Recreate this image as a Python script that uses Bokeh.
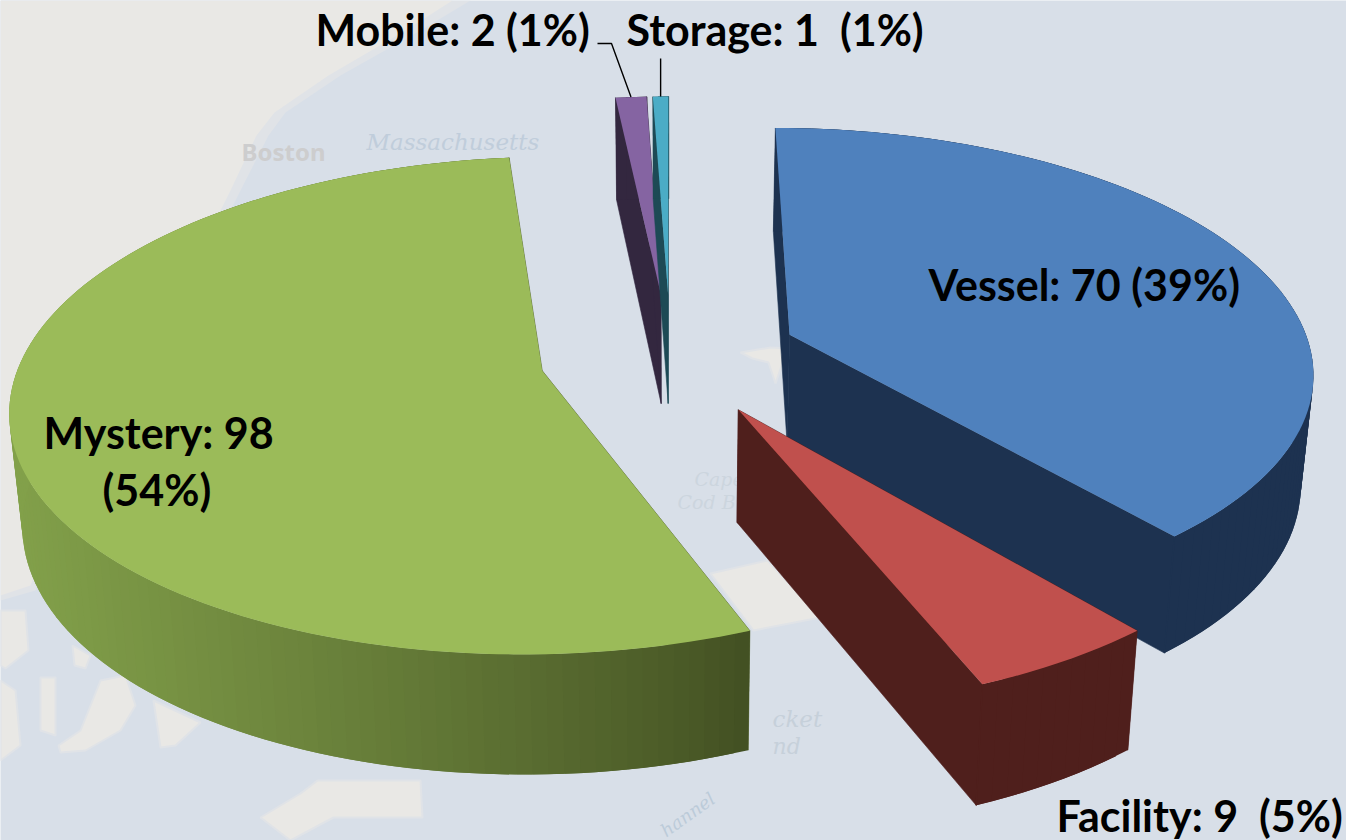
import numpy as np
from bokeh.plotting import figure
from bokeh.embed import file_html
from bokeh.resources import INLINE
from bokeh.core.properties import value

# ---- data
categories = ["Vessel", "Facility", "Mystery", "Mobile", "Storage"]
counts = [70, 9, 98, 2, 1]
label_lines = [["Vessel: 70 (39%)"], ["Facility: 9\u00a0 (5%)"], ["Mystery: 98", "(54%)"], ["Mobile: 2 (1%)"], ["Storage: 1\u00a0 (1%)"]]

# ---- styling
top_colors = ["#4f81bd", "#c0504d", "#9bbb59", "#8564a2", "#4bacc6"]
side_colors = ["#1d3250", "#4f1f1c", "#4f6029", "#33273f", "#1d4a55"]
explode = [0.24, 0.24, 0.24, 0.27, 0.27]
rim_scale = [0.995, 1.0, 0.992, 1.0, 1.0]
nudge_x = [2, 1, -5, 0, 0]
nudge_y = [-4, 0, -2, -1, -1]
label_pos = [[(928, 284)], [(1056, 815)], [(43, 432), (102, 489)], [(315, 29)], [(626, 29)]]
FONT = value("Lato")
FS = "43px"

X0, Y0, R, S, K, DEPTH, SHRINK = 670.0, 358.0, 525.0, 242.0, 0.14, 111.0, 0.02

def project(a, b, z):
    s = 1.0 / (1.0 + K * b)
    return X0 + R * a * s * (1 - SHRINK * z), Y0 - S * b * s + DEPTH * np.sqrt(s) * z

p = figure(width=1346, height=840, x_range=(0, 1346), y_range=(840, 0),
           output_backend="svg", toolbar_location=None, min_border=0)
p.axis.visible = False
p.grid.visible = False
p.outline_line_color = None
p.background_fill_color = "#d8dfe8"
p.border_fill_color = "#d8dfe8"

# ---- faint map behind the chart
halo = "#e0e3e7"
land = "#e9e8e5"
p.patch([0, 470, 420, 340, 285, 268, 240, 215, 120, 45, 35, 0],
        [0, 0, 30, 75, 112, 135, 190, 240, 400, 560, 590, 600], fill_color=halo, line_color=None)
p.patch([0, 452, 405, 328, 274, 256, 230, 205, 110, 40, 30, 0],
        [0, 0, 30, 75, 112, 135, 190, 240, 400, 560, 585, 595], fill_color=land, line_color=None)
land_shapes = [
    ([0, 25, 28, 5, 0], [610, 610, 650, 668, 665]),
    ([0, 15, 20, 0], [680, 690, 745, 760]),
    ([40, 55, 55, 40], [677, 677, 735, 730]),
    ([100, 125, 135, 120, 85, 60, 58, 80], [680, 675, 705, 730, 750, 752, 745, 730]),
    ([153, 200, 175, 160], [700, 722, 745, 747]),
    ([72, 90, 85, 74], [645, 655, 668, 665]),
    ([260, 300, 317, 420, 422, 333, 290], [817, 793, 780, 780, 817, 817, 840]),
    ([710, 767, 820, 753], [573, 560, 617, 630]),
    ([740, 770, 787, 775, 768, 752], [352, 347, 348, 383, 362, 358]),
]
for xs, ys in land_shapes:
    p.patch(xs, ys, fill_color=land, line_color=halo, line_width=2)

map_serif = value("DejaVu Serif")
for txt, x, y, col, fnt, style, size in [
    ("Boston", 241, 151, "#cdcdce", value("Noto Sans"), "bold", "24px"),
    ("Massachusetts", 366, 141, "#c0cddb", map_serif, "italic", "23px"),
    ("Cape", 694, 478, "#ccd5de", map_serif, "italic", "19px"),
    ("Cod B", 677, 501, "#ccd5de", map_serif, "italic", "19px"),
    ("cket", 772, 718, "#c6d0da", map_serif, "italic", "23px"),
    ("nd", 772, 746, "#c6d0da", map_serif, "italic", "22px"),
]:
    p.text([x], [y], text=[txt], text_color=col, text_font=fnt,
           text_font_style=style, text_font_size=size, text_baseline="middle")
p.text([662], [832], text=["hannel"], text_color="#bccbd9", text_font=map_serif,
       text_font_style="italic", text_font_size="18px", angle=0.62, text_baseline="alphabetic")

# ---- slices, from the counts
total = float(sum(counts))
edges = np.concatenate([[0.0], np.cumsum(counts)]) / total * 2 * np.pi
GREEN = 2
DARK, LIGHT = np.array([0x42, 0x4f, 0x22]), np.array([0x82, 0xa0, 0x4a])

def hexc(c):
    return "#%02x%02x%02x" % tuple(int(round(v)) for v in c)

for i in [3, 4, 0, 1, 2]:
    t0, t1 = edges[i], edges[i + 1]
    mid = (t0 + t1) / 2
    a0, b0 = explode[i] * np.sin(mid), explode[i] * np.cos(mid)
    th = np.linspace(t0, t1, max(4, int(np.degrees(t1 - t0) / 1.5)))
    a, b = a0 + rim_scale[i] * np.sin(th), b0 + rim_scale[i] * np.cos(th)
    xt, yt = project(a, b, 0)
    xb, yb = project(a, b, 1)
    ax, ay = project(np.array([a0]), np.array([b0]), 0)
    bx, by = project(np.array([a0]), np.array([b0]), 1)
    dx, dy = nudge_x[i], nudge_y[i]
    xt, xb, ax, bx = xt + dx, xb + dx, ax + dx, bx + dx
    yt, yb, ay, by = yt + dy, yb + dy, ay + dy, by + dy
    side = side_colors[i]
    # straight faces
    p.patch([ax[0], xt[0], xb[0], bx[0]], [ay[0], yt[0], yb[0], by[0]], fill_color=side, line_color=side, line_width=0.6)
    p.patch([ax[0], xt[-1], xb[-1], bx[0]], [ay[0], yt[-1], yb[-1], by[0]], fill_color=side, line_color=side, line_width=0.6)
    # outer wall
    for j in range(len(th) - 1):
        if i == GREEN:
            f = np.clip((750 - (xt[j] + xt[j + 1]) / 2) / 740, 0, 1) ** 0.85
            col = hexc(DARK + (LIGHT - DARK) * f)
        else:
            col = side
        k = min(j + 2, len(th) - 1)
        p.patch([xt[j], xt[k], xb[k], xb[j]], [yt[j], yt[k], yb[k], yb[j]], fill_color=col, line_color=None)
    if i != GREEN:
        p.line([xt[-1], xb[-1]], [yt[-1], yb[-1]], line_color=side, line_width=1.5)
    # top
    p.patch(np.r_[ax, xt], np.r_[ay, yt], fill_color=top_colors[i], line_color=None)

# ---- leader lines
def rim_mid(i):
    m = (edges[i] + edges[i + 1]) / 2
    x, y = project(np.array([(explode[i] + 1) * np.sin(m)]), np.array([(explode[i] + 1) * np.cos(m)]), 0)
    return x[0] + nudge_x[i], y[0] + nudge_y[i]

mx, my = rim_mid(3)
p.line([597, 611, mx], [43, 43, my], line_color="#000000", line_width=1.4)
mx, my = rim_mid(4)
p.line([mx, mx], [58, my], line_color="#000000", line_width=1.4)

# ---- labels
for lines, poss in zip(label_lines, label_pos):
    for line, (x, y) in zip(lines, poss):
        p.text([x], [y], text=[line], text_color="#000000", text_font=FONT, text_font_style="bold",
               text_font_size=FS, text_baseline="middle", text_align="left")

open("out.html", "w").write(file_html(p, INLINE))
